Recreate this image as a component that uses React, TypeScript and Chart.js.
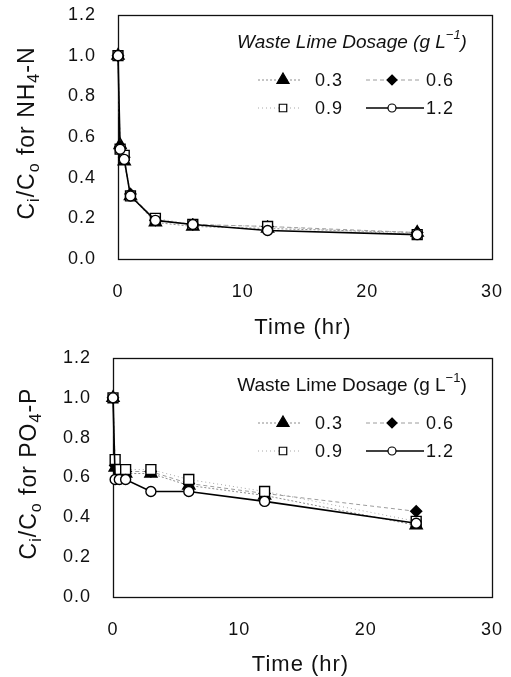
import React, { useEffect, useRef } from 'react';
import { Chart, registerables } from 'chart.js';
Chart.register(...registerables);

// ---------- data ----------
const TIMES = [0, 0.17, 0.5, 1, 3, 6, 12, 24];
const DOSAGES = ['0.3', '0.6', '0.9', '1.2'];
const NH4_03 = [1.0, 0.56, 0.48, 0.31, 0.18, 0.16, 0.15, 0.13];
const NH4_06 = [1.0, 0.55, 0.5, 0.32, 0.19, 0.17, 0.16, 0.13];
const NH4_09 = [1.0, 0.54, 0.51, 0.31, 0.2, 0.17, 0.16, 0.12];
const NH4_12 = [1.0, 0.54, 0.49, 0.31, 0.19, 0.17, 0.14, 0.12];
const PO4_03 = [1.0, 0.65, 0.62, 0.62, 0.62, 0.56, 0.51, 0.36];
const PO4_06 = [1.0, 0.66, 0.63, 0.63, 0.63, 0.57, 0.52, 0.43];
const PO4_09 = [1.0, 0.69, 0.64, 0.64, 0.64, 0.59, 0.53, 0.38];
const PO4_12 = [1.0, 0.59, 0.59, 0.59, 0.53, 0.53, 0.48, 0.37];
const X_MIN = 0;
const X_MAX = 30;
const X_STEP = 10;
const Y_MIN = 0;
const Y_MAX = 1.2;
const Y_STEP = 0.2;
const X_TITLE = 'Time (hr)';
const LEGEND_TITLE = 'Waste Lime Dosage';

// ---------- styles ----------
const FONT = '"Liberation Sans", Arial, Helvetica, sans-serif';
type Style = { color: string; dash: number[]; width: number; shape: string; fill: string; r: number; lr: number };
const STYLES: Style[] = [
  { color: '#8c8c8c', dash: [2, 2], width: 1, shape: 'triangle', fill: '#000', r: 7, lr: 7 },
  { color: '#9c9c9c', dash: [4, 3], width: 1, shape: 'rectRot', fill: '#000', r: 5.5, lr: 5 },
  { color: '#a8a8a8', dash: [1, 3], width: 1, shape: 'rect', fill: '#fff', r: 7, lr: 5 },
  { color: '#000000', dash: [], width: 1.6, shape: 'circle', fill: '#fff', r: 5, lr: 4 },
];

type Seg = { t: string; sub?: boolean; sup?: boolean };

function drawSegs(ctx: CanvasRenderingContext2D, segs: Seg[], x: number, y: number, size: number, italic: boolean) {
  const base = `${italic ? 'italic ' : ''}${size}px ${FONT}`;
  const small = `${italic ? 'italic ' : ''}${Math.round(size * 0.68)}px ${FONT}`;
  let total = 0;
  for (const s of segs) {
    ctx.font = s.sub || s.sup ? small : base;
    total += ctx.measureText(s.t).width;
  }
  let cx = x - total / 2;
  for (const s of segs) {
    ctx.font = s.sub || s.sup ? small : base;
    const dy = s.sub ? size * 0.28 : s.sup ? -size * 0.38 : 0;
    ctx.fillText(s.t, cx, y + dy);
    cx += ctx.measureText(s.t).width;
  }
  return total;
}

function drawMarker(ctx: CanvasRenderingContext2D, st: Style, x: number, y: number, r: number) {
  ctx.save();
  ctx.setLineDash([]);
  ctx.lineWidth = 1.2;
  ctx.strokeStyle = '#000';
  ctx.fillStyle = st.fill;
  ctx.beginPath();
  if (st.shape === 'triangle') {
    ctx.moveTo(x, y - r);
    ctx.lineTo(x + r * 0.866, y + r * 0.5);
    ctx.lineTo(x - r * 0.866, y + r * 0.5);
    ctx.closePath();
  } else if (st.shape === 'rectRot') {
    ctx.moveTo(x, y - r);
    ctx.lineTo(x + r, y);
    ctx.lineTo(x, y + r);
    ctx.lineTo(x - r, y);
    ctx.closePath();
  } else if (st.shape === 'rect') {
    ctx.rect(x - r * 0.75, y - r * 0.75, r * 1.5, r * 1.5);
  } else {
    ctx.arc(x, y, r, 0, Math.PI * 2);
  }
  ctx.fill();
  ctx.stroke();
  ctx.restore();
}

type PanelCfg = {
  series: number[][];
  yTitle: Seg[];
  italicLegend: boolean;
  height: number;
  yWidth: number;
  padTop: number;
  xHeight: number;
  yTitleOffset: number;
  xTitleOffset: number;
};

function zeroPad(s: any) {
  s.paddingTop = 0;
  s.paddingBottom = 0;
  s.paddingLeft = 0;
  s.paddingRight = 0;
}

function Panel({ cfg }: { cfg: PanelCfg }) {
  const ref = useRef<HTMLCanvasElement | null>(null);
  useEffect(() => {
    if (!ref.current) return;
    const decor = {
      id: 'decor',
      beforeDraw(chart: any) {
        (chart.ctx as any).letterSpacing = '1px';
      },
      beforeDatasetsDraw(chart: any) {
        const { ctx, chartArea: a } = chart;
        ctx.save();
        ctx.strokeStyle = '#111';
        ctx.lineWidth = 1.3;
        ctx.setLineDash([]);
        ctx.strokeRect(Math.round(a.left) + 0.5, Math.round(a.top) + 0.5, Math.round(a.right - a.left), Math.round(a.bottom - a.top));
        ctx.restore();
      },
      afterDraw(chart: any) {
        const { ctx, chartArea: a } = chart;
        ctx.save();
        ctx.fillStyle = '#111';
        ctx.textBaseline = 'middle';
        ctx.textAlign = 'left';
        (ctx as any).letterSpacing = '1px';
        // y title
        ctx.save();
        ctx.translate(a.left - cfg.yTitleOffset, (a.top + a.bottom) / 2 - 4);
        ctx.rotate(-Math.PI / 2);
        drawSegs(ctx, cfg.yTitle, 0, 0, 23, false);
        ctx.restore();
        // x title
        drawSegs(ctx, [{ t: X_TITLE }], (a.left + a.right) / 2 - 2, a.bottom + cfg.xTitleOffset, 22, false);
        // legend title
        (ctx as any).letterSpacing = '0px';
        drawSegs(
          ctx,
          [{ t: LEGEND_TITLE + ' (g L' }, { t: '\u22121', sup: true }, { t: ')' }],
          a.right - 140,
          a.top + 28,
          19,
          cfg.italicLegend
        );
        (ctx as any).letterSpacing = '1px';
        // legend items
        const cols = [
          { lx0: a.right - 234, lx1: a.right - 192, mx: a.right - 209, tx: a.right - 177 },
          { lx0: a.right - 126, lx1: a.right - 72, mx: a.right - 100, tx: a.right - 66 },
        ];
        const rows = [a.top + 65, a.top + 93];
        DOSAGES.forEach((d, i) => {
          const st = STYLES[i];
          const c = cols[i % 2];
          const y = rows[Math.floor(i / 2)];
          ctx.save();
          ctx.strokeStyle = st.color;
          ctx.lineWidth = st.width;
          ctx.setLineDash(st.dash);
          ctx.beginPath();
          ctx.moveTo(c.lx0, y);
          ctx.lineTo(i === 3 ? c.lx1 + 4 : c.lx1, y);
          ctx.stroke();
          ctx.restore();
          drawMarker(ctx, st, c.mx, y, st.lr);
          ctx.font = `18px ${FONT}`;
          ctx.fillStyle = '#111';
          ctx.fillText(d, c.tx, y + 1);
        });
        ctx.restore();
      },
    };

    const datasets = cfg.series.map((vals, i) => {
      const st = STYLES[i];
      return {
        label: DOSAGES[i],
        data: TIMES.map((t, k) => ({ x: t, y: vals[k] })),
        borderColor: st.color,
        borderWidth: st.width,
        borderDash: st.dash,
        pointStyle: st.shape,
        pointRadius: st.r,
        pointBackgroundColor: st.fill,
        pointBorderColor: '#000',
        pointBorderWidth: 1.4,
        tension: 0,
        clip: false as any,
        order: 3 - i,
        fill: false,
      };
    });

    const chart = new Chart(ref.current, {
      type: 'line',
      data: { datasets },
      options: {
        animation: false,
        responsive: false,
        events: [],
        layout: { padding: { top: cfg.padTop, right: 19, left: 0, bottom: 0 } },
        plugins: { legend: { display: false }, tooltip: { enabled: false }, title: { display: false } },
        scales: {
          x: {
            type: 'linear',
            min: X_MIN,
            max: X_MAX,
            grid: { display: false, drawTicks: false },
            border: { display: false },
            ticks: { stepSize: X_STEP, padding: 22, color: '#111', font: { size: 18, family: FONT }, maxRotation: 0 },
            afterFit: (s: any) => {
              s.height = cfg.xHeight;
              zeroPad(s);
            },
          },
          y: {
            type: 'linear',
            min: Y_MIN,
            max: Y_MAX,
            grid: { display: false, drawTicks: false },
            border: { display: false },
            ticks: {
              stepSize: Y_STEP,
              padding: 22,
              color: '#111',
              font: { size: 18, family: FONT },
              callback: (v: any) => Number(v).toFixed(1),
            },
            afterFit: (s: any) => {
              s.width = cfg.yWidth;
              zeroPad(s);
            },
          },
        },
      },
      plugins: [decor],
    });
    return () => chart.destroy();
  }, [cfg]);
  return <canvas ref={ref} width={511} height={cfg.height} style={{ display: 'block', width: 511, height: cfg.height }} />;
}

const TOP: PanelCfg = {
  series: [NH4_03, NH4_06, NH4_09, NH4_12],
  yTitle: [{ t: 'C' }, { t: 'i', sub: true }, { t: '/C' }, { t: 'o', sub: true }, { t: ' for NH' }, { t: '4', sub: true }, { t: '-N' }],
  italicLegend: true,
  height: 340,
  yWidth: 118,
  padTop: 15,
  xHeight: 81,
  yTitleOffset: 90,
  xTitleOffset: 69,
};

const BOTTOM: PanelCfg = {
  series: [PO4_03, PO4_06, PO4_09, PO4_12],
  yTitle: [{ t: 'C' }, { t: 'i', sub: true }, { t: '/C' }, { t: 'o', sub: true }, { t: ' for PO' }, { t: '4', sub: true }, { t: '-P' }],
  italicLegend: false,
  height: 337,
  yWidth: 113,
  padTop: 18,
  xHeight: 80,
  yTitleOffset: 83,
  xTitleOffset: 68,
};

export default function App() {
  return (
    <div style={{ position: 'fixed', left: 0, top: 0, width: 511, height: 677, background: '#fff' }}>
      <Panel cfg={TOP} />
      <Panel cfg={BOTTOM} />
    </div>
  );
}
